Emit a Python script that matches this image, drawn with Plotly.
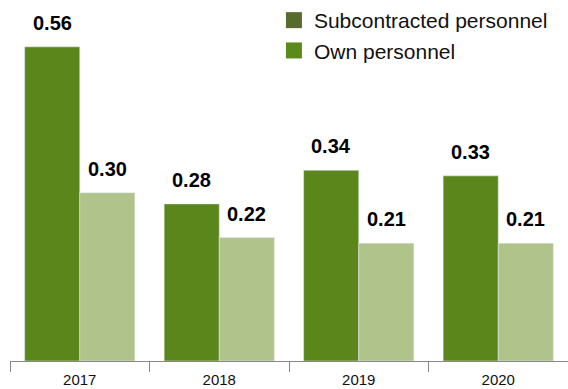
import plotly.graph_objects as go

years = ["2017", "2018", "2019", "2020"]
own = [0.56, 0.28, 0.34, 0.33]
sub = [0.30, 0.22, 0.21, 0.21]
labels_own = ["0.56", "0.28", "0.34", "0.33"]
labels_sub = ["0.30", "0.22", "0.21", "0.21"]

FONT = "Liberation Sans, Arial"

fig = go.Figure()
fig.add_trace(go.Bar(x=years, y=own, marker_color="#5b861b", showlegend=False))
fig.add_trace(go.Bar(x=years, y=sub, marker_color="#afc38a", showlegend=False))
fig.add_trace(go.Scatter(x=[years[0]], y=[None], mode="markers", name="Subcontracted personnel",
                         marker=dict(symbol="square", size=16, color="#576b2f")))
fig.add_trace(go.Scatter(x=[years[0]], y=[None], mode="markers", name="Own personnel",
                         marker=dict(symbol="square", size=16, color="#5a8a1a")))

anns = []
for i, (v, t) in enumerate(zip(own, labels_own)):
    anns.append(dict(x=i, y=v, text="<b>" + t + "</b>", showarrow=False, xshift=-27.5, yshift=11,
                     yanchor="bottom", font=dict(size=20, color="#000", family=FONT)))
for i, (v, t) in enumerate(zip(sub, labels_sub)):
    anns.append(dict(x=i, y=v, text="<b>" + t + "</b>", showarrow=False, xshift=27.5, yshift=11,
                     yanchor="bottom", font=dict(size=20, color="#000", family=FONT)))

fig.update_layout(
    width=568, height=389,
    margin=dict(l=10, r=0, t=0, b=28),
    paper_bgcolor="white", plot_bgcolor="white",
    barmode="group", bargap=0.21, bargroupgap=0,
    font=dict(family=FONT, color="#111"),
    annotations=anns,
    legend=dict(x=0.473, y=1.0, xanchor="left", yanchor="top", font=dict(size=21, color="#111"),
                bgcolor="rgba(0,0,0,0)", tracegroupgap=0),
    xaxis=dict(type="category", categoryorder="array", categoryarray=years,
               range=[-0.5, len(years) - 0.5], autorange=False,
               showline=True, linecolor="#888", linewidth=1, ticks="outside", tickson="boundaries",
               ticklen=10, tickcolor="#888", ticklabelstandoff=5,
               tickfont=dict(size=15, color="#111"), showgrid=False),
    yaxis=dict(visible=False, range=[0, 0.6435], showgrid=False, zeroline=False),
)
fig.write_html("out.html")
